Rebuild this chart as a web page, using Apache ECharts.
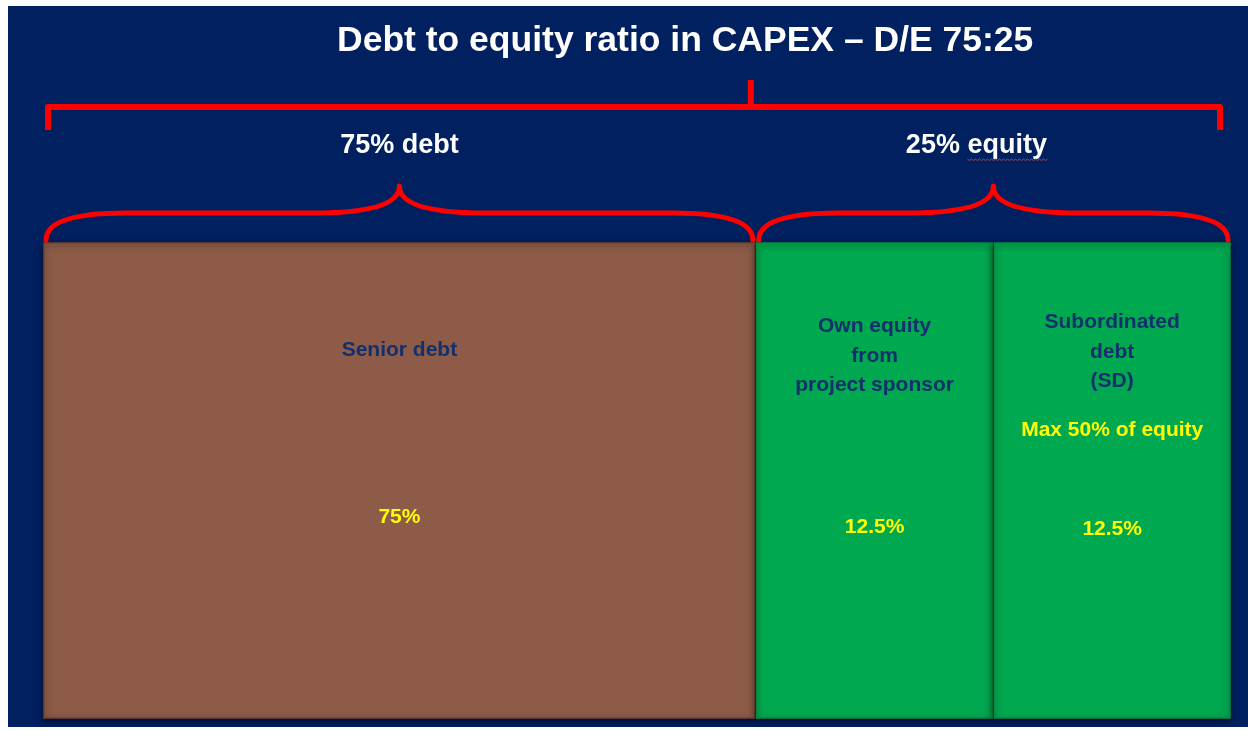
<!DOCTYPE html>
<html>
<head>
<meta charset="utf-8">
<script src="https://cdn.jsdelivr.net/npm/echarts@6/dist/echarts.min.js"></script>
<style>
html,body{margin:0;padding:0;background:#ffffff;width:1248px;height:731px;overflow:hidden;}
#chart{position:absolute;left:8px;top:6px;width:1240px;height:721px;}
</style>
</head>
<body>
<div id="chart"></div>
<script>
// ---- data ----
const titleText = 'Debt to equity ratio in CAPEX \u2013 D/E 75:25';
const blockNames = ['Senior debt', 'Own equity\nfrom\nproject sponsor', 'Subordinated\ndebt\n(SD)'];
const blockShares = [75, 12.5, 12.5];
const blockNotes = ['', '', 'Max 50% of equity'];
const blockSlots = [3, 1, 1];           // schematic width of each block
const groupLabels = ['75% debt', '25% equity'];
const groupBlocks = [[0], [1, 2]];

// ---- styles ----
const fillColors = ['#8d5b48', '#00a84f', '#00a84f'];
const strokeColors = ['#6f4434', '#078c43', '#078c43'];
const nameOffsets = [107, 113, 109];     // px below block top (centre of name text)
const shareOffsets = [274, 284, 286];    // px below block top
const labelShift = [0, -17];             // horizontal nudge of group labels
const FONT = '"Liberation Sans", Arial, sans-serif';
const RED = '#ff0000';

// ---- build ----
const starts = [];
let acc = 0;
blockSlots.forEach(function (s) { starts.push(acc); acc += s; });
const totalSlots = acc;
const blockData = blockSlots.map(function (s, i) { return [starts[i], starts[i] + s, blockShares[i]]; });
const groupData = groupBlocks.map(function (b) {
  return [starts[b[0]], starts[b[b.length - 1]] + blockSlots[b[b.length - 1]]];
});
const boundary = groupData[0][1];

const measureCtx = document.createElement('canvas').getContext('2d');
function textWidth(t, font) { measureCtx.font = font; return measureCtx.measureText(t).width; }

const chart = echarts.init(document.getElementById('chart'));
chart.setOption({
  backgroundColor: '#002060',
  animation: false,
  title: {
    text: titleText,
    left: 324, top: 12,
    textStyle: { color: '#ffffff', fontSize: 35.5, fontWeight: 'bold', fontFamily: FONT }
  },
  grid: { left: 35, right: 17, top: 237, bottom: 9 },
  xAxis: { type: 'value', min: 0, max: totalSlots, show: false },
  yAxis: { type: 'value', min: 0, max: 100, show: false },
  series: [
    {
      type: 'custom', clip: false, data: blockData,
      renderItem: function (params, api) {
        const i = params.dataIndex;
        const p0 = api.coord([api.value(0), 100]);
        const p1 = api.coord([api.value(1), 0]);
        const x0 = p0[0] + 1, x1 = p1[0] - 1, top = p0[1], bot = p1[1];
        const cx = (x0 + x1) / 2;
        const children = [
          { type: 'rect', shape: { x: x0, y: top, width: x1 - x0, height: bot - top },
            style: { fill: fillColors[i], stroke: strokeColors[i], lineWidth: 1.5,
              shadowBlur: 6, shadowColor: 'rgba(0,0,0,0.55)', shadowOffsetY: 2 } },
          { type: 'text', x: cx, y: top + nameOffsets[i],
            style: { text: blockNames[i], fill: '#11306c', font: 'bold 21px ' + FONT,
              align: 'center', verticalAlign: 'middle', lineHeight: 29.5 } },
          { type: 'text', x: cx, y: top + shareOffsets[i],
            style: { text: api.value(2) + '%', fill: '#ffff00', font: 'bold 21px ' + FONT,
              align: 'center', verticalAlign: 'middle' } }
        ];
        if (blockNotes[i]) {
          children.push({ type: 'text', x: cx, y: top + 187,
            style: { text: blockNotes[i], fill: '#ffff00', font: 'bold 21px ' + FONT,
              align: 'center', verticalAlign: 'middle' } });
        }
        return { type: 'group', children: children };
      }
    },
    {
      type: 'custom', clip: false, data: groupData,
      renderItem: function (params, api) {
        const i = params.dataIndex;
        const p0 = api.coord([api.value(0), 100]);
        const p1 = api.coord([api.value(1), 100]);
        const top = p0[1];
        const xL = p0[0] + 3, xR = p1[0] - 3, xc = (xL + xR) / 2;
        const y0 = top - 3, y1 = top - 30, y2 = top - 57;
        const re = 80, rp = 85;
        const d = 'M' + xL + ' ' + y0 +
          ' Q' + xL + ' ' + y1 + ' ' + (xL + re) + ' ' + y1 +
          ' L' + (xc - rp) + ' ' + y1 +
          ' Q' + xc + ' ' + y1 + ' ' + xc + ' ' + y2 +
          ' M' + xc + ' ' + y2 +
          ' Q' + xc + ' ' + y1 + ' ' + (xc + rp) + ' ' + y1 +
          ' L' + (xR - re) + ' ' + y1 +
          ' Q' + xR + ' ' + y1 + ' ' + xR + ' ' + y0;
        const font = 'bold 27px ' + FONT;
        const lx = xc + labelShift[i], ly = top - 97;
        const children = [
          { type: 'path', shape: { pathData: d },
            style: { fill: null, stroke: RED, lineWidth: 5, lineCap: 'round', lineJoin: 'round' } },
          { type: 'text', x: lx, y: ly,
            style: { text: groupLabels[i], fill: '#ffffff', font: font,
              align: 'center', verticalAlign: 'middle' } }
        ];
        // spell-check style wavy underline under "equity"
        const words = groupLabels[i].split(' ');
        if (words[1] === 'equity') {
          const full = textWidth(groupLabels[i], font);
          const pre = textWidth(words[0] + ' ', font);
          const w = textWidth(words[1], font);
          const sx = lx - full / 2 + pre, uy = ly + 13;
          let wd = 'M' + sx + ' ' + uy;
          for (let k = 0, x = sx; x < sx + w; k++) { x += 2; wd += ' L' + x + ' ' + (uy + (k % 2 ? 0 : 1.5)); }
          children.push({ type: 'path', shape: { pathData: wd },
            style: { fill: null, stroke: '#e03030', lineWidth: 1 } });
        }
        return { type: 'group', children: children };
      }
    },
    {
      type: 'custom', clip: false, data: [[0, totalSlots, boundary]],
      renderItem: function (params, api) {
        const p0 = api.coord([api.value(0), 100]);
        const p1 = api.coord([api.value(1), 100]);
        const pm = api.coord([api.value(2), 100]);
        const top = p0[1];
        const xL = p0[0] + 5, xR = p1[0] - 11, xm = pm[0] - 5;
        const yH = top - 136, yE = top - 113, yT = top - 163;
        const d = 'M' + xL + ' ' + yE + ' L' + xL + ' ' + yH + ' L' + xR + ' ' + yH + ' L' + xR + ' ' + yE +
          ' M' + xm + ' ' + yH + ' L' + xm + ' ' + yT;
        return { type: 'path', shape: { pathData: d },
          style: { fill: null, stroke: RED, lineWidth: 6, lineJoin: 'round' } };
      }
    }
  ]
});
</script>
</body>
</html>
